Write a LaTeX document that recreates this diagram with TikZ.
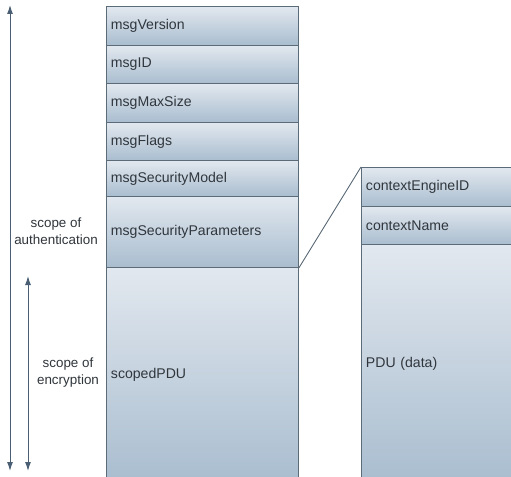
\documentclass[tikz,border=0pt]{standalone}
\usepackage{fontspec}
\setmainfont{Liberation Sans}
\usetikzlibrary{arrows.meta}
\definecolor{edge}{HTML}{5C6B78}
\definecolor{ftop}{HTML}{E2E8EF}
\definecolor{fbot}{HTML}{A9BDCF}
\definecolor{arrowc}{HTML}{4A5F73}
\definecolor{txt}{HTML}{30363C}
\tikzset{
  field/.style={draw=edge, line width=0.9bp, top color=ftop, bottom color=fbot,
    anchor=north west, inner xsep=4.5bp, inner ysep=0pt, text width=183bp,
    align=left, text=txt, font=\fontsize{14.1bp}{17bp}\selectfont},
  scopelabel/.style={align=center, text=txt, inner sep=0pt,
    font=\fontsize{13.4bp}{17bp}\selectfont},
  scopearrow/.style={draw=arrowc, line width=1bp,
    {Latex[length=9bp,width=6bp]}-{Latex[length=9bp,width=6bp]}},
}
\begin{document}
\begin{tikzpicture}[x=1bp,y=-1bp]
\clip (0,0) rectangle (511,477);
\fill[white] (0,0) rectangle (511,477);

% message header fields
\node[field, minimum height=39bp]  (ver)   at (106,6)   {msgVersion};
\node[field, minimum height=38bp]  (id)    at (106,45)  {msgID};
\node[field, minimum height=39bp]  (max)   at (106,83)  {msgMaxSize};
\node[field, minimum height=38bp]  (flags) at (106,122) {msgFlags};
\node[field, minimum height=36bp]  (model) at (106,160) {msgSecurityModel};
\node[field, minimum height=71bp]  (par)   at (106,196) {msgSecurityParameters};
\node[field, minimum height=215bp] (spdu)  at (106,267) {scopedPDU};

% expanded scopedPDU
\node[field, minimum height=39bp]  (eng)   at (361,167) {contextEngineID};
\node[field, minimum height=38bp]  (cname) at (361,206) {contextName};
\node[field, minimum height=238bp] (pdu)   at (361,244) {PDU (data)};

\draw[edge, line width=0.9bp] (par.south east) -- (eng.north west);

% scope arrows
\coordinate (authTop) at (10,5);
\coordinate (authBot) at (10,471);
\coordinate (encTop)  at (28,276);
\coordinate (encBot)  at (28,471);
\draw[scopearrow] (authBot) -- (authTop);
\draw[scopearrow] (encBot) -- (encTop);

\node[scopelabel] (authlbl) at (56,231) {scope of\\authentication};
\node[scopelabel] (enclbl)  at (68,373) {scope of\\encryption};
\end{tikzpicture}
\end{document}
